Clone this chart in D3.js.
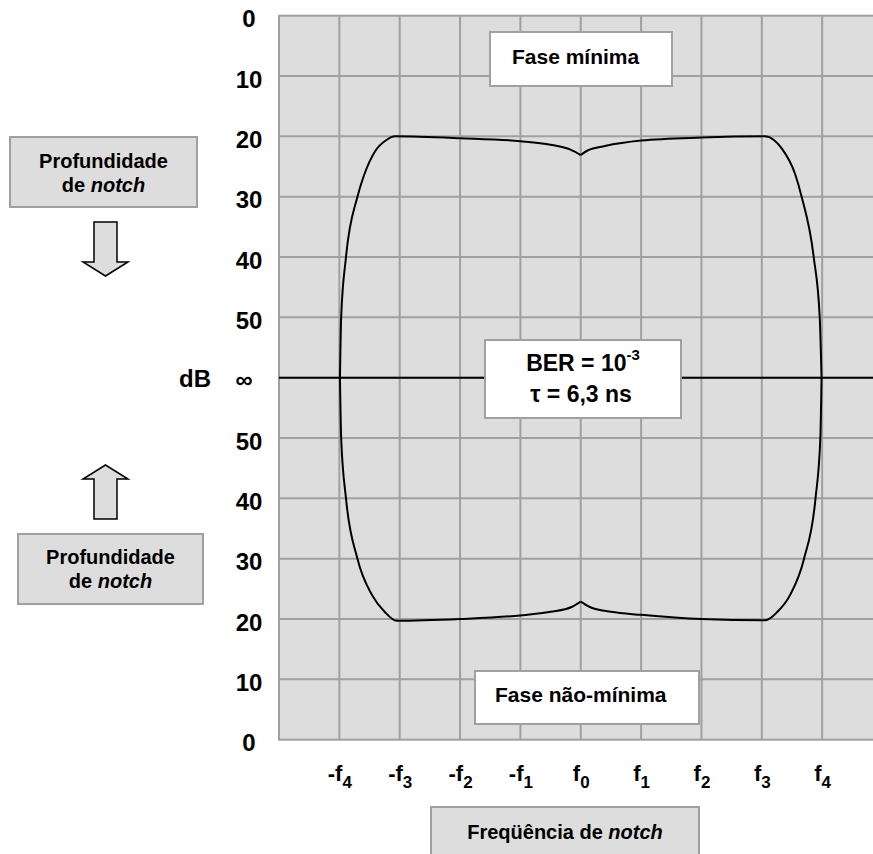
<!DOCTYPE html>
<html>
<head>
<meta charset="utf-8">
<script src="https://cdn.jsdelivr.net/npm/d3@7"></script>
<style>
body { margin: 0; background: #fff; }
text { font-family: Arial, "Liberation Sans", sans-serif; font-weight: bold; fill: #000; }
</style>
</head>
<body>
<div id="chart"></div>
<script>
// data
var yLabels = ["0", "10", "20", "30", "40", "50", "\u221e", "50", "40", "30", "20", "10", "0"];
var xLabels = [["-f", "4"], ["-f", "3"], ["-f", "2"], ["-f", "1"], ["f", "0"], ["f", "1"], ["f", "2"], ["f", "3"], ["f", "4"]];
var xTickValues = [-4, -3, -2, -1, 0, 1, 2, 3, 4];

// curve points: [frequency step, row on the depth axis (6 = infinite)]
var minPhaseLeft = [[-3.99, 6], [-3.97, 5], [-3.89, 4], [-3.70, 3], [-3.60, 2.67], [-3.41, 2.25],
    [-3.22, 2.06], [-3.08, 2.0], [-2, 2.03], [-1, 2.08], [-0.5, 2.14], [-0.17, 2.22], [0, 2.31]];
var minPhaseRight = [[0, 2.31], [0.12, 2.23], [0.4, 2.16], [1, 2.07], [2, 2.02], [3.05, 2.0],
    [3.2, 2.06], [3.33, 2.2], [3.55, 2.62], [3.66, 3], [3.86, 4], [3.96, 5], [3.99, 6]];
var nonMinPhaseLeft = [[-3.99, 6], [-3.97, 7], [-3.89, 8], [-3.70, 9], [-3.46, 9.6], [-3.25, 9.88],
    [-3.05, 10.03], [-2, 10.0], [-1, 9.94], [-0.5, 9.88], [-0.15, 9.8], [0, 9.71]];
var nonMinPhaseRight = [[0, 9.71], [0.15, 9.8], [0.5, 9.88], [1, 9.93], [2, 10.0], [3.06, 10.02],
    [3.26, 9.88], [3.47, 9.6], [3.70, 9], [3.89, 8], [3.97, 7], [3.99, 6]];

var W = 873, H = 854;
var plot = {left: 279, top: 15.7, right: 882.5, bottom: 739.7};

var svg = d3.select("#chart").append("svg")
    .attr("width", W)
    .attr("height", H);

var x = d3.scaleLinear().domain([-5, 5]).range([plot.left, plot.right]);
var y = d3.scaleLinear().domain([0, 12]).range([plot.top, plot.bottom]);

// plot background
svg.append("rect")
    .attr("x", plot.left).attr("y", plot.top)
    .attr("width", plot.right - plot.left).attr("height", plot.bottom - plot.top)
    .attr("fill", "#dddddd")
    .attr("stroke", "#a0a0a0").attr("stroke-width", 2);

// grid
var grid = svg.append("g").attr("stroke", "#a0a0a0").attr("stroke-width", 2);
grid.selectAll(".vline").data(d3.range(-4, 6)).enter().append("line")
    .attr("x1", function(d){ return x(d); })
    .attr("x2", function(d){ return x(d); })
    .attr("y1", plot.top).attr("y2", plot.bottom);
grid.selectAll(".hline").data(d3.range(1, 12)).enter().append("line")
    .attr("x1", plot.left).attr("x2", plot.right)
    .attr("y1", function(d){ return y(d); })
    .attr("y2", function(d){ return y(d); });

// infinite depth line
svg.append("line")
    .attr("x1", plot.left).attr("x2", plot.right)
    .attr("y1", y(6)).attr("y2", y(6))
    .attr("stroke", "#000").attr("stroke-width", 2);

// signature curves
var line = d3.line()
    .x(function(d){ return x(d[0]); })
    .y(function(d){ return y(d[1]); })
    .curve(d3.curveMonotoneX);

[minPhaseLeft, minPhaseRight, nonMinPhaseLeft, nonMinPhaseRight].forEach(function(pts){
    svg.append("path")
        .attr("d", line(pts))
        .attr("fill", "none")
        .attr("stroke", "#000")
        .attr("stroke-width", 2);
});

// y axis labels
var yAxis = svg.append("g")
    .attr("transform", "translate(249,0)")
    .call(d3.axisLeft(y).tickValues(d3.range(13)).tickSize(0)
        .tickFormat(function(d){ return yLabels[d]; }));
yAxis.select(".domain").remove();
yAxis.selectAll("text")
    .attr("x", 0).attr("dy", null)
    .attr("y", 11)
    .attr("text-anchor", "middle")
    .style("font-size", "24px")
    .attr("font-family", null);
yAxis.selectAll(".tick").filter(function(d){ return d == 6; }).select("text")
    .attr("x", -5).attr("y", 10);

svg.append("text")
    .attr("x", 195).attr("y", y(6) + 9.5)
    .attr("text-anchor", "middle")
    .style("font-size", "24px")
    .text("dB");

// x axis labels with subscripts
var xAxis = svg.append("g")
    .attr("transform", "translate(0," + plot.bottom + ")")
    .call(d3.axisBottom(x).tickValues(xTickValues).tickSize(0).tickFormat(""));
xAxis.select(".domain").remove();
xAxis.selectAll(".tick text").each(function(d, i){
    var t = d3.select(this)
        .attr("y", 41).attr("dy", null)
        .attr("text-anchor", "middle")
        .attr("font-family", null)
        .style("font-size", "22px");
    t.append("tspan").text(xLabels[i][0]);
    t.append("tspan").attr("dy", 7).style("font-size", "17px").text(xLabels[i][1]);
});

// text boxes
function box(x0, y0, w, h, fill){
    svg.append("rect")
        .attr("x", x0).attr("y", y0)
        .attr("width", w).attr("height", h)
        .attr("fill", fill)
        .attr("stroke", "#a0a0a0").attr("stroke-width", 2);
}

box(490, 32, 182, 54, "#fff");
svg.append("text").attr("x", 512).attr("y", 63.5).style("font-size", "21px").text("Fase mínima");

box(485, 340, 196, 78, "#fff");
var ber = svg.append("text").attr("x", 583).attr("y", 370.5).attr("text-anchor", "middle").style("font-size", "23px");
ber.append("tspan").text("BER = 10");
ber.append("tspan").attr("dy", -11).style("font-size", "15px").text("-3");
svg.append("text").attr("x", 581).attr("y", 401.5).attr("text-anchor", "middle").style("font-size", "23px")
    .text("\u03c4 = 6,3 ns");

box(475, 671, 224, 53, "#fff");
svg.append("text").attr("x", 495).attr("y", 701.5).style("font-size", "21px").text("Fase não-mínima");

box(431, 807, 268, 60, "#dddddd");
var fq = svg.append("text").attr("x", 565).attr("y", 839).attr("text-anchor", "middle").style("font-size", "20px");
fq.append("tspan").text("Freqüência de ");
fq.append("tspan").style("font-style", "italic").text("notch");

function depthBox(x0, y0, w, h, base1){
    box(x0, y0, w, h, "#dddddd");
    var cx = x0 + w / 2;
    svg.append("text").attr("x", cx).attr("y", base1).attr("text-anchor", "middle")
        .style("font-size", "20px").text("Profundidade");
    var t = svg.append("text").attr("x", cx).attr("y", base1 + 24).attr("text-anchor", "middle")
        .style("font-size", "20px");
    t.append("tspan").text("de ");
    t.append("tspan").style("font-style", "italic").text("notch");
}
depthBox(10, 137, 187, 70, 168);
depthBox(18, 534, 185, 70, 564);

// arrows
function arrow(tipY, headY, tailY){
    var pts = [[105.5, tipY], [128, headY], [117, headY], [117, tailY], [94, tailY], [94, headY], [83, headY]];
    svg.append("path")
        .attr("d", d3.line()(pts) + "Z")
        .attr("fill", "#dddddd")
        .attr("stroke", "#000")
        .attr("stroke-width", 1.5);
}
arrow(276, 262, 222);
arrow(465, 479, 519);
</script>
</body>
</html>
